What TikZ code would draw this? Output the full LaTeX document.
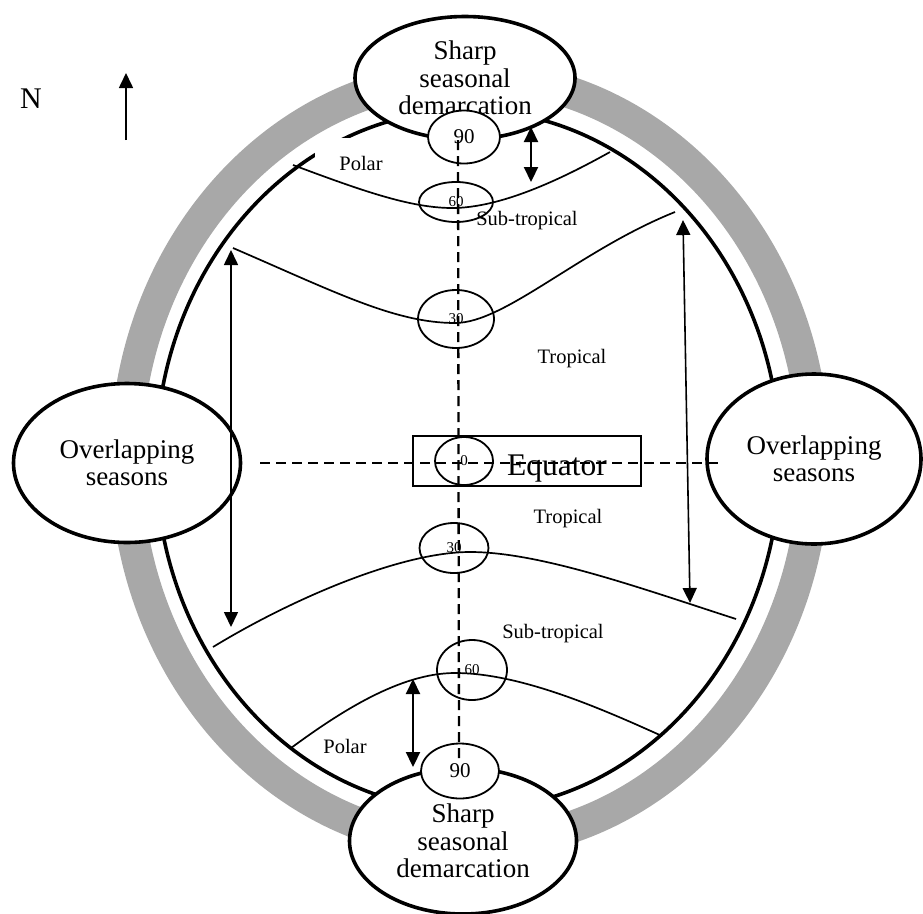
\documentclass[tikz,border=0pt]{standalone}
\usepackage{fontspec}
\setmainfont{Liberation Serif}
\usetikzlibrary{shapes.geometric,arrows.meta}
\definecolor{ringgray}{HTML}{A8A8A8}
\tikzset{
  bubble/.style={ellipse, draw, line width=3.6pt, fill=white, inner sep=0pt, align=center,
    font=\fontsize{27}{27.5}\selectfont},
  degree/.style={ellipse, draw, line width=1.8pt, inner sep=0pt, font=\fontsize{15}{15}\selectfont},
  zone/.style={anchor=base, inner sep=0pt, font=\fontsize{20.5}{24}\selectfont},
  border/.style={line width=1.7pt},
  dashline/.style={line width=2.3pt, dash pattern=on 10pt off 6pt},
  tip/.style={line width=1.6pt, -{Triangle[width=14pt,length=15pt]}},
  twoway/.style={line width=1.6pt, {Triangle[width=14pt,length=15pt]}-{Triangle[width=14pt,length=15pt]}},
}
\begin{document}
\begin{tikzpicture}[x=1pt,y=-1pt]
\useasboundingbox (0,0) rectangle (923,913);
% ring and outline
\draw[ringgray, line width=32pt] (470,460) ellipse [x radius=344pt, y radius=384pt];
\draw[line width=3.6pt] (468,460) ellipse [x radius=312pt, y radius=350pt];
\node[zone, anchor=center, fill=white, minimum width=92pt, minimum height=50pt] (polarN) at (361,163) {Polar};
% season bubbles
\node[bubble, minimum width=220pt, minimum height=123pt] (sharpN) at (465,78) {Sharp\\seasonal\\demarcation};
\node[bubble, minimum width=227pt, minimum height=146pt] (sharpS) at (463,841) {Sharp\\seasonal\\demarcation};
\node[bubble, minimum width=227pt, minimum height=159pt] (overW) at (127,463) {Overlapping\\seasons};
\node[bubble, minimum width=214pt, minimum height=170pt] (overE) at (814,459) {Overlapping\\seasons};
% poles
\node[degree, fill=white, minimum width=72pt, minimum height=53pt, font=\fontsize{21}{21}\selectfont] (ninetyN) at (464,137) {90};
\node[degree, fill=white, minimum width=78pt, minimum height=55pt, font=\fontsize{21}{21}\selectfont] (ninetyS) at (460,771) {90};
% zone boundaries
\draw[border] (293,165) .. controls (360,190) and (410,208) .. (452,208) .. controls (500,208) and (560,180) .. (610,152);
\draw[border] (233,248) .. controls (335,292) and (395,323) .. (455,323) .. controls (505,323) and (580,250) .. (675,212);
\draw[border] (213,647) .. controls (290,600) and (400,552) .. (470,552) .. controls (540,552) and (640,588) .. (736,619);
\draw[border] (291,748) .. controls (340,712) and (400,673) .. (455,673) .. controls (520,673) and (600,708) .. (662,736);
% latitudes
\node[degree, minimum width=74pt, minimum height=40pt] (sixtyN) at (456,202) {60};
\node[degree, minimum width=76pt, minimum height=58pt] (thirtyN) at (456,319) {30};
\node[degree, minimum width=58pt, minimum height=48pt] (zero) at (464,461) {0};
\node[degree, minimum width=69pt, minimum height=50pt] (thirtyS) at (454,548) {30};
\node[degree, minimum width=70pt, minimum height=60pt] (sixtyS) at (472,670) {60};
\node[draw, line width=1.8pt, minimum width=228pt, minimum height=50pt] (eqbox) at (527,461) {};
\node[anchor=base, inner sep=0pt, font=\fontsize{31.5}{32}\selectfont] (eqtext) at (557,475) {Equator};
% axes
\coordinate (poleN) at (458,140);
\coordinate (poleS) at (459,760);
\coordinate (eqW) at (260,463);
\coordinate (eqE) at (718,463);
\draw[dashline] (poleN) -- (poleS);
\draw[dashline] (eqW) -- (eqE);
% zone names
\node[zone] (subN) at (527,225) {Sub-tropical};
\node[zone] (tropN) at (572,363) {Tropical};
\node[zone] (tropS) at (568,523) {Tropical};
\node[zone] (subS) at (553,638) {Sub-tropical};
\node[zone] (polarS) at (345,753) {Polar};
% arrows
\node[anchor=base, inner sep=0pt, font=\fontsize{30}{30}\selectfont] (north) at (31,108) {N};
\coordinate (nTail) at (126,140);
\coordinate (nHead) at (126,73);
\draw[tip] (nTail) -- (nHead);
\coordinate (wTop) at (231,250);
\coordinate (wBot) at (231,627);
\draw[twoway] (wTop) -- (wBot);
\coordinate (eTop) at (683,220);
\coordinate (eBot) at (690,603);
\draw[twoway] (eTop) -- (eBot);
\coordinate (pnTop) at (531,127);
\coordinate (pnBot) at (531,182);
\draw[twoway, line width=2.2pt] (pnTop) -- (pnBot);
\coordinate (psTop) at (413,679);
\coordinate (psBot) at (413,767);
\draw[twoway, line width=2.2pt] (psTop) -- (psBot);
\end{tikzpicture}
\end{document}
